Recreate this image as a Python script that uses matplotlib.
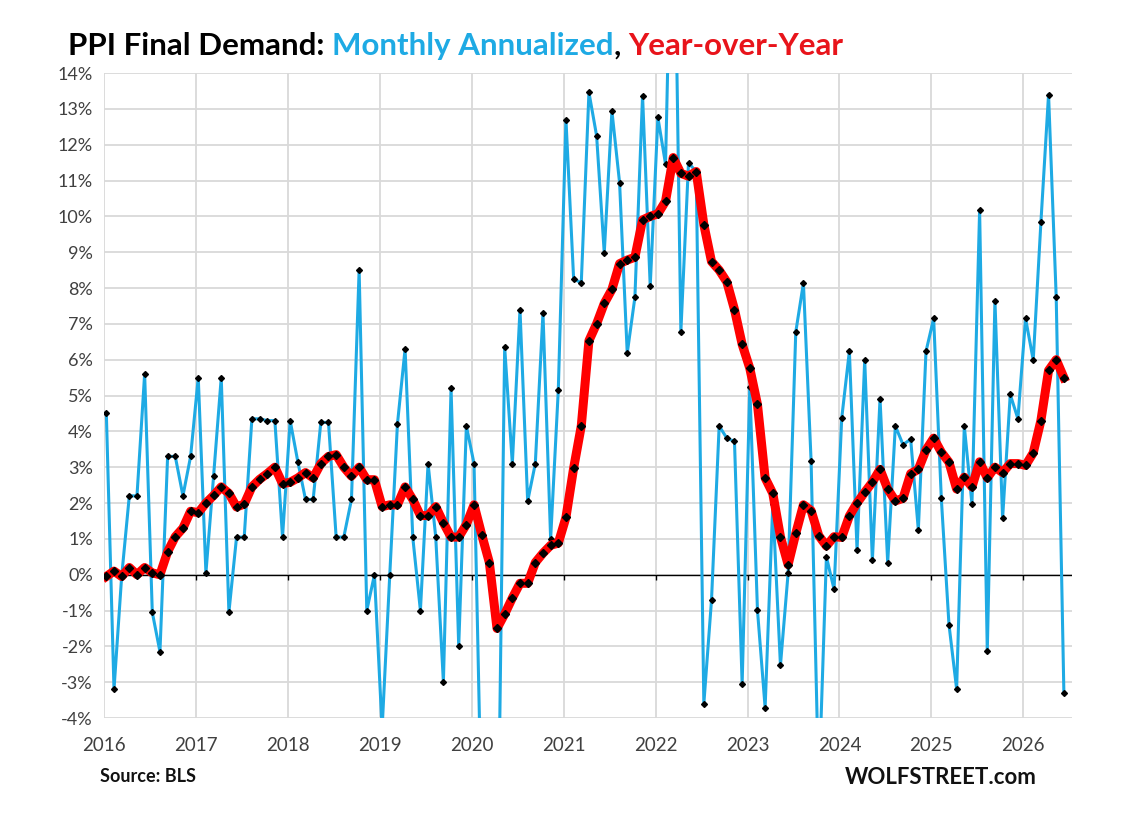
#PPI Final Demand: monthly annualized vs year-over-year
import numpy as np
import matplotlib
matplotlib.use('Agg')
import matplotlib.pyplot as plt

#資料 (%), Jan 2016 ~ Jun 2026
monthly = [4.5, -3.2, -0.05, 2.2, 2.2, 5.6, -1.05, -2.15, 3.3, 3.3, 2.2, 3.3,
           5.5, 0.05, 2.75, 5.5, -1.05, 1.05, 1.05, 4.35, 4.35, 4.3, 4.3, 1.05,
           4.3, 3.15, 2.1, 2.1, 4.25, 4.25, 1.05, 1.05, 2.1, 8.5, -1.0, 0.0,
           -4.3, 0.0, 4.2, 6.3, 1.05, -1.0, 3.1, 1.05, -3.0, 5.2, -2.0, 4.15,
           3.1, -7.0, -5.0, -10.0, 6.35, 3.1, 7.4, 2.05, 3.1, 7.3, 1.0, 5.15,
           12.7, 8.26, 8.14, 13.46, 12.25, 8.98, 12.94, 10.94, 6.18, 7.74, 13.37, 8.05,
           12.76, 11.46, 21.0, 6.78, 11.49, 11.25, -3.6, -0.71, 4.15, 3.81, 3.72, -3.05,
           5.24, -0.99, -3.71, 1.97, -2.53, 0.04, 6.77, 8.14, 3.18, -6.0, 0.5, -0.41,
           4.37, 6.24, 0.68, 5.99, 0.4, 4.91, 0.34, 4.15, 3.63, 3.78, 1.25, 6.23,
           7.15, 2.13, -1.39, -3.19, 4.15, 1.97, 10.17, -2.14, 7.65, 1.57, 5.03, 4.35,
           7.15, 5.99, 9.83, 13.4, 7.74, -3.29]

yoy = [-0.05, 0.1, -0.05, 0.2, 0.0, 0.2, 0.05, 0.0, 0.64, 1.06, 1.3, 1.77,
       1.73, 2.0, 2.21, 2.45, 2.27, 1.89, 1.97, 2.45, 2.66, 2.82, 3.0, 2.54,
       2.58, 2.7, 2.85, 2.7, 3.1, 3.3, 3.35, 3.0, 2.75, 3.0, 2.65, 2.65,
       1.9, 1.95, 1.95, 2.45, 2.1, 1.65, 1.65, 1.9, 1.45, 1.05, 1.05, 1.4,
       1.95, 1.12, 0.34, -1.5, -1.1, -0.65, -0.24, -0.24, 0.34, 0.6, 0.82, 0.88,
       1.6, 2.97, 4.15, 6.53, 7.0, 7.57, 7.96, 8.68, 8.78, 8.86, 9.9, 10.0,
       10.07, 10.42, 11.64, 11.2, 11.12, 11.25, 9.77, 8.74, 8.5, 8.17, 7.4, 6.43,
       5.76, 4.75, 2.7, 2.27, 1.06, 0.28, 1.15, 1.95, 1.79, 1.09, 0.8, 1.06,
       1.04, 1.64, 2.0, 2.3, 2.58, 2.94, 2.39, 2.06, 2.13, 2.82, 2.94, 3.48,
       3.81, 3.42, 3.14, 2.39, 2.72, 2.45, 3.15, 2.7, 3.0, 2.85, 3.1, 3.1,
       3.05, 3.4, 4.3, 5.7, 6.0, 5.5]

years = list(range(2016, 2027))
yticks = list(range(-4, 15))

BLUE = '#1eaae4'
RED = '#ff0000'

plt.rcParams['font.family'] = ['Lato', 'DejaVu Sans']

x = 2016 + (np.arange(len(monthly)) + 0.3) / 12

fig = plt.figure(figsize=(11.42, 8.14), dpi=100)
ax = fig.add_axes([0.0911, 0.1179, 0.8476, 0.7924])

ax.plot(x, monthly, color=BLUE, lw=2.2, marker='D', ms=3.0, mfc='black', mec='black', zorder=3)
ax.plot(x, yoy, color=RED, lw=6.5, marker='D', ms=3.8, mfc='black', mec='black', zorder=4,
        solid_joinstyle='round')

ax.set_xlim(2016, 2026.53)
ax.set_ylim(-4, 14)
ax.set_xticks(years)
ax.set_xticklabels([str(y) for y in years])
ax.set_yticks(yticks)
ax.set_yticklabels(['%d%%' % t for t in yticks])
ax.tick_params(length=0, labelsize=13, colors='#404040', pad=8)
ax.tick_params(axis='x', pad=14, labelsize=13.5)
ax.grid(True, color='#d9d9d9', lw=1.3)
ax.set_axisbelow(True)
for s in ax.spines.values():
    s.set_visible(False)

#0% line + small ticks
ax.axhline(0, color='black', lw=1, zorder=2)
ax.vlines(years[1:], -0.15, 0, color='black', lw=1, zorder=2)

#title (3 colors)
fig.canvas.draw()
r = fig.canvas.get_renderer()
parts = [('PPI Final Demand: ', 'black'), ('Monthly Annualized', BLUE),
         (', ', 'black'), ('Year-over-Year', '#e8141b')]
xpos = 68 / 1142
for txt, c in parts:
    t = fig.text(xpos, 1 - 55 / 814, txt, color=c, fontsize=22.5, fontweight='bold', ha='left', va='baseline')
    bb = t.get_window_extent(renderer=r)
    xpos += bb.width / fig.bbox.width

fig.text(100 / 1142, 1 - 782 / 814, 'Source: BLS', fontsize=13, fontweight='bold', color='#111111')
fig.text(1037 / 1142, 1 - 784 / 814, 'WOLFSTREET.com', fontsize=16, fontweight='bold',
         color='#111111', ha='right')

plt.savefig('out.png', dpi=100)
